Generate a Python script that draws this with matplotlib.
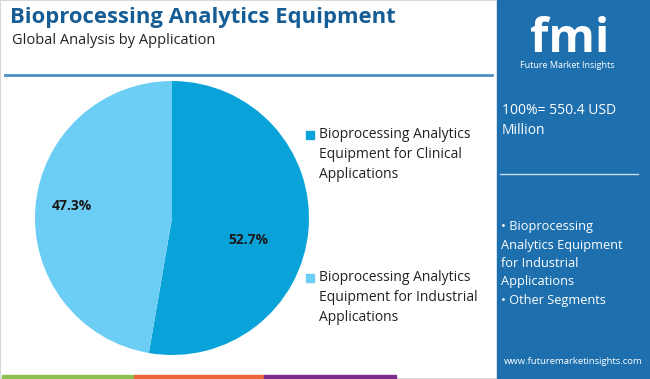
import matplotlib.pyplot as plt
from matplotlib.patches import Rectangle

labels = ['Bioprocessing Analytics\nEquipment for Clinical\nApplications',
          'Bioprocessing Analytics\nEquipment for Industrial\nApplications']
shares = [52.7, 47.3]
colors = ['#0aa3d9', '#6dcef5']
total_text = '100%= 550.4 USD\nMillion'
side_text = ('\u2022 Bioprocessing\nAnalytics Equipment\nfor Industrial\n'
             'Applications\n\u2022 Other Segments')

W, H = 650, 379
plt.rcParams['font.family'] = ['Open Sans', 'DejaVu Sans']
fig = plt.figure(figsize=(W / 100, H / 100), dpi=100)


def fx(px):
    return px / W


def fy(py):
    return 1 - py / H


# page frame and side panel
fig.patches.append(Rectangle((0, 0), 1, 1, transform=fig.transFigure,
                             fill=False, ec='#d8d8d8', lw=1.5))
fig.patches.append(Rectangle((fx(497), 0), fx(W - 497), 1,
                             transform=fig.transFigure, color='#1d6fae'))
# bottom colour strip
for x0, x1, c in [(2, 134, '#8cc152'), (134, 264, '#e9673a'),
                  (264, 396, '#7d2e8c')]:
    fig.patches.append(Rectangle((fx(x0), 0), fx(x1 - x0), 4 / H,
                                 transform=fig.transFigure, color=c))

fig.text(fx(10), fy(18), 'Bioprocessing Analytics Equipment',
         fontsize=15.8, fontweight='bold', color='#155d94', va='center')
fig.text(fx(12), fy(41), 'Global Analysis by Application',
         fontsize=10.5, color='#222222', va='center')
fig.add_artist(plt.Line2D([fx(5), fx(492)], [fy(75), fy(75)],
                          color='#4a8fc6', lw=2))

# pie
ax = fig.add_axes([fx(35), fy(355), fx(274), 274 / H])
wedges, _ = ax.pie(shares, colors=colors, startangle=90, counterclock=False,
                   wedgeprops=dict(lw=0))
ax.set_xlim(-1, 1)
ax.set_ylim(-1, 1)
ax.set_aspect('equal')
ax.text(0.56, -0.16, f'{shares[0]}%', fontsize=10, fontweight='bold',
        ha='center', va='center', color='#1a1a1a')
ax.text(-0.73, 0.09, f'{shares[1]}%', fontsize=10, fontweight='bold',
        ha='center', va='center', color='#1a1a1a')

# legend
for ly, lab, c in [(135, labels[0], colors[0]), (278, labels[1], colors[1])]:
    fig.patches.append(Rectangle((fx(306), fy(ly + 4)), fx(8), 8 / H,
                                 transform=fig.transFigure, color=c))
    fig.text(fx(319), fy(ly - 8), lab, fontsize=10, color='#222222',
             va='top', linespacing=1.45)

# side panel content
fig.text(fx(570), fy(52), 'fmi', fontsize=34, fontweight='bold',
         color='white', ha='center', va='baseline')
fig.text(fx(567), fy(66), 'Future Market Insights', fontsize=6.5,
         color='white', ha='center', va='center')
fig.text(fx(502), fy(103), total_text, fontsize=10, color='white',
         va='top', linespacing=1.5)
fig.add_artist(plt.Line2D([fx(500), fx(638)], [fy(174), fy(174)],
                          color='#c9dcec', lw=1))
fig.text(fx(501), fy(220), side_text, fontsize=9.2, color='white',
         va='top', linespacing=1.55)
fig.text(fx(573), fy(362), 'www.futuremarketinsights.com', fontsize=6.8,
         color='white', ha='center', va='center')

fig.savefig('out.png', dpi=100)
